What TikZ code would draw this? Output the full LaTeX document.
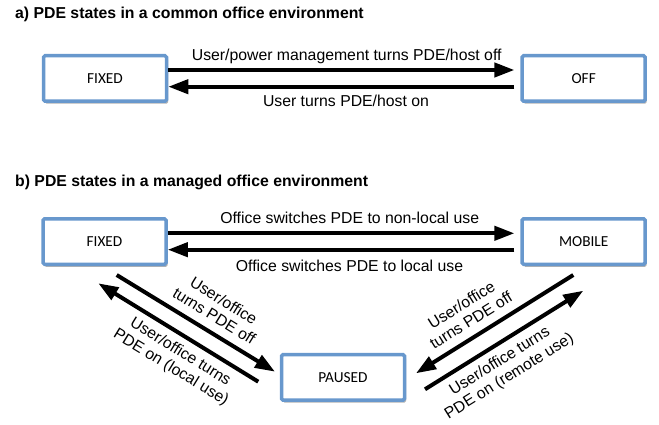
\documentclass[tikz,border=0pt]{standalone}
\usepackage{fontspec}
\setmainfont{Liberation Sans}
\newfontfamily\boxfont{Carlito}
\usetikzlibrary{arrows.meta,shadows}
\definecolor{boxblue}{RGB}{104,152,205}
\begin{document}
\begin{tikzpicture}[x=1pt,y=-1pt,
 statebox/.style={draw=boxblue, line width=3.5pt, fill=white, rounded corners=1.5pt,
   minimum width=123pt, minimum height=45.5pt, inner sep=0pt,
   font=\boxfont\fontsize{15.3}{18}\selectfont,
   drop shadow={shadow xshift=1.5pt, shadow yshift=-2.5pt, opacity=0.3, fill=black}},
 lbl/.style={font=\fontsize{15.8}{18}\selectfont, inner sep=0pt, align=center},
 ttl/.style={font=\bfseries\fontsize{15.8}{18}\selectfont, inner sep=0pt, anchor=base west},
 arr/.style={line width=4pt, -{Triangle[length=20pt,width=14pt]}}]
\useasboundingbox (0,0) rectangle (659,425);

\node[ttl] (ta) at (15,19) {a) PDE states in a common office environment};
\node[ttl] (tb) at (15,186) {b) PDE states in a managed office environment};

\node[statebox] (fa) at (105,78.5) {FIXED};
\node[statebox] (off) at (583.7,78.5) {OFF};
\node[statebox] (fb) at (104.5,241.5) {FIXED};
\node[statebox] (mob) at (583.7,241.5) {MOBILE};
\node[statebox] (pa) at (343,377.3) {PAUSED};

\draw[arr] ([yshift=8.5pt]fa.east) -- ([xshift=-6pt,yshift=8.5pt]off.west);
\draw[arr] ([xshift=-6pt,yshift=-8.2pt]off.west) -- ([yshift=-8.2pt]fa.east);
\draw[arr] ([yshift=8.2pt]fb.east) -- ([xshift=-6pt,yshift=8.2pt]mob.west);
\draw[arr] ([xshift=-6pt,yshift=-8.2pt]mob.west) -- ([yshift=-8.2pt]fb.east);

\draw[arr] ([xshift=12.2pt,yshift=-9pt]fb.south) -- ([xshift=-4.75pt,yshift=5.6pt]pa.west);
\draw[arr] ([xshift=-21.5pt,yshift=-4.4pt]pa.west) -- ([xshift=-6.2pt,yshift=-17.3pt]fb.south);
\draw[arr] ([xshift=-10.4pt,yshift=-9pt]mob.south) -- ([xshift=9.75pt,yshift=4pt]pa.east);
\draw[arr] ([xshift=18.75pt,yshift=-12pt]pa.east) -- ([xshift=-0.4pt,yshift=-24.7pt]mob.south);

\node[lbl, anchor=base] (l1) at (346.7,60.7) {User/power management turns PDE/host off};
\node[lbl, anchor=base] (l2) at (346,106.7) {User turns PDE/host on};
\node[lbl, anchor=base] (l3) at (349.7,223.3) {Office switches PDE to non-local use};
\node[lbl, anchor=base] (l4) at (349.5,271.7) {Office switches PDE to local use};

\node[lbl, rotate=-31.5] (l5) at (219.1,308.3) {User/office\\turns PDE off};
\node[lbl, rotate=-31.5] (l6) at (175.5,360) {User/office turns\\PDE on (local use)};
\node[lbl, rotate=32] (l7) at (466.1,312.5) {User/office\\turns PDE off};
\node[lbl, rotate=32] (l8) at (504.7,369.2) {User/office turns\\PDE on (remote use)};
\end{tikzpicture}
\end{document}
